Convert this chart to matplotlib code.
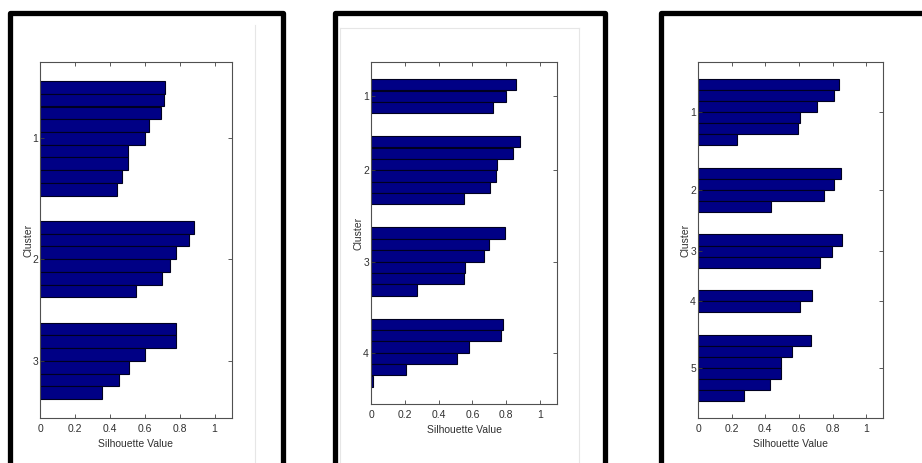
import matplotlib
matplotlib.use("Agg")
import matplotlib.pyplot as plt
from matplotlib.patches import Rectangle
from matplotlib.lines import Line2D

# valores de silueta por cluster
sil_k3 = [
    [0.714, 0.709, 0.692, 0.626, 0.603, 0.502, 0.502, 0.467, 0.443],
    [0.883, 0.854, 0.780, 0.747, 0.701, 0.552],
    [0.782, 0.780, 0.600, 0.511, 0.450, 0.356],
]
sil_k4 = [
    [0.857, 0.798, 0.724],
    [0.883, 0.841, 0.748, 0.738, 0.702, 0.552],
    [0.792, 0.698, 0.669, 0.556, 0.548, 0.272],
    [0.778, 0.770, 0.577, 0.510, 0.208, 0.012],
]
sil_k5 = [
    [0.837, 0.808, 0.710, 0.605, 0.595, 0.232],
    [0.851, 0.810, 0.750, 0.436],
    [0.857, 0.798, 0.724],
    [0.679, 0.605],
    [0.669, 0.556, 0.494, 0.494, 0.429, 0.274],
]
x_ticks = [0, 0.2, 0.4, 0.6, 0.8, 1]
x_tick_labels = ["0", "0.2", "0.4", "0.6", "0.8", "1"]

W, H = 922, 463
plt.rcParams["font.family"] = ["Liberation Sans", "DejaVu Sans"]
fig = plt.figure(figsize=(W / 100, H / 100), dpi=100)


def px_box(l, t, r, b):
    return [l / W, 1 - b / H, (r - l) / W, (b - t) / H]


def silueta(rect, clusters, label_x):
    ax = fig.add_axes(px_box(*rect))
    pos = []
    vals = []
    ticks = []
    y = 1
    for c in clusters:
        ys = list(range(y, y + len(c)))
        pos += ys
        vals += c
        ticks.append((ys[0] + ys[-1]) / 2)
        y += len(c) + 2
    last = pos[-1]
    ax.barh(pos, vals, height=1.0, color="#000085", edgecolor="#000020", linewidth=0.8)
    ax.set_xlim(0, 1.1)
    ax.set_ylim(last + 2, -1)
    ax.set_xticks(x_ticks)
    ax.set_xticklabels(x_tick_labels, fontsize=7.5, color="#303030")
    ax.set_yticks(ticks)
    ax.set_yticklabels([str(i + 1) for i in range(len(clusters))],
                       fontsize=7.5, color="#303030")
    ax.tick_params(direction="in", length=3, width=0.6, color="#404040",
                   top=True, right=True, pad=4)
    ax.tick_params(axis="y", pad=1.5)
    for s in ax.spines.values():
        s.set_color("#505050")
        s.set_linewidth(0.8)
    ax.set_xlabel("Silhouette Value", fontsize=7.5, color="#303030", labelpad=4)
    ax.set_ylabel("Cluster", fontsize=7.5, color="#303030", va="center")
    ax.yaxis.set_label_coords(label_x, 0.5)
    return ax


silueta((40, 62, 232, 418), sil_k3, -0.062)
silueta((371, 62, 557, 404), sil_k4, -0.068)
silueta((698, 62, 883, 418), sil_k5, -0.068)

# lineas tenues del borde de las capturas
gris = "#e6e6e6"
fig.add_artist(Line2D([255 / W, 255 / W], [1 - 25 / H, 0], color=gris, lw=0.8))
fig.add_artist(Line2D([340 / W, 340 / W], [1 - 28 / H, 0], color=gris, lw=0.8))
fig.add_artist(Line2D([579 / W, 579 / W], [1 - 28 / H, 0], color=gris, lw=0.8))
fig.add_artist(Line2D([340 / W, 579 / W], [1 - 28 / H, 1 - 28 / H], color=gris, lw=0.8))

# marcos negros gruesos
for l, t, r in [(10, 13, 283), (334.5, 12.7, 605), (660.5, 12.7, 960)]:
    fig.add_artist(Rectangle((l / W, 1 - 500 / H), (r - l) / W, (500 - t) / H,
                             transform=fig.transFigure, fill=False, edgecolor="black",
                             linewidth=3.8, joinstyle="round", clip_on=False))

fig.savefig("out.png", dpi=100)
